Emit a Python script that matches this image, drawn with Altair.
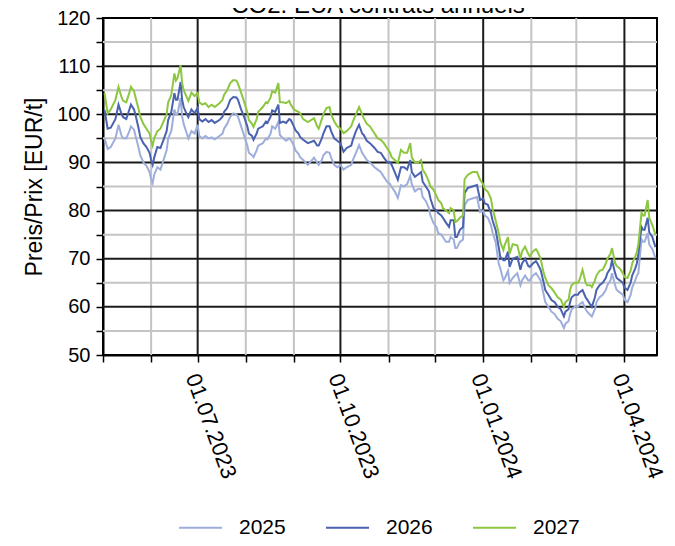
import altair as alt
import pandas as pd

dates = [
    "2023-05-02", "2023-05-04", "2023-05-06", "2023-05-09", "2023-05-11", "2023-05-13", "2023-05-14", "2023-05-16",
    "2023-05-18", "2023-05-19", "2023-05-21", "2023-05-22", "2023-05-24", "2023-05-25", "2023-05-27", "2023-05-29", "2023-05-31",
    "2023-06-01", "2023-06-02", "2023-06-03", "2023-06-05", "2023-06-07", "2023-06-09", "2023-06-11", "2023-06-12", "2023-06-14",
    "2023-06-16", "2023-06-17", "2023-06-18", "2023-06-20", "2023-06-21", "2023-06-22", "2023-06-24", "2023-06-25", "2023-06-27", "2023-06-29",
    "2023-07-01", "2023-07-02", "2023-07-04", "2023-07-06", "2023-07-08", "2023-07-10", "2023-07-12", "2023-07-15", "2023-07-17",
    "2023-07-18", "2023-07-20", "2023-07-22", "2023-07-24", "2023-07-26", "2023-07-27", "2023-07-29", "2023-07-31",
    "2023-08-02", "2023-08-03", "2023-08-05", "2023-08-06", "2023-08-08", "2023-08-09", "2023-08-12", "2023-08-14", "2023-08-15",
    "2023-08-17", "2023-08-18", "2023-08-20", "2023-08-22", "2023-08-23", "2023-08-25", "2023-08-27", "2023-08-29", "2023-08-30",
    "2023-09-01", "2023-09-02", "2023-09-04", "2023-09-05", "2023-09-07", "2023-09-10", "2023-09-14", "2023-09-16", "2023-09-17",
    "2023-09-19", "2023-09-20", "2023-09-22", "2023-09-24", "2023-09-25", "2023-09-27", "2023-09-29",
    "2023-10-01", "2023-10-03", "2023-10-05", "2023-10-08", "2023-10-09", "2023-10-11", "2023-10-13", "2023-10-15", "2023-10-16",
    "2023-10-18", "2023-10-20", "2023-10-23", "2023-10-25", "2023-10-27", "2023-10-29", "2023-10-31",
    "2023-11-02", "2023-11-03", "2023-11-05", "2023-11-07", "2023-11-09", "2023-11-11", "2023-11-13", "2023-11-15", "2023-11-16",
    "2023-11-18", "2023-11-20", "2023-11-22", "2023-11-23", "2023-11-25", "2023-11-27", "2023-11-28", "2023-11-30",
    "2023-12-02", "2023-12-03", "2023-12-05", "2023-12-06", "2023-12-08", "2023-12-10", "2023-12-11", "2023-12-13", "2023-12-14",
    "2023-12-15", "2023-12-17", "2023-12-19", "2023-12-20", "2023-12-22", "2023-12-25", "2023-12-28", "2023-12-30",
    "2024-01-01", "2024-01-02", "2024-01-04", "2024-01-06", "2024-01-07", "2024-01-09", "2024-01-11", "2024-01-12", "2024-01-14",
    "2024-01-15", "2024-01-17", "2024-01-18", "2024-01-20", "2024-01-23", "2024-01-25", "2024-01-26", "2024-01-28", "2024-01-30", "2024-01-31",
    "2024-02-02", "2024-02-04", "2024-02-05", "2024-02-07", "2024-02-09", "2024-02-10", "2024-02-12", "2024-02-14", "2024-02-16",
    "2024-02-18", "2024-02-20", "2024-02-22", "2024-02-23", "2024-02-25", "2024-02-26", "2024-02-27", "2024-02-29",
    "2024-03-02", "2024-03-03", "2024-03-05", "2024-03-07", "2024-03-08", "2024-03-10", "2024-03-11", "2024-03-13", "2024-03-14",
    "2024-03-16", "2024-03-18", "2024-03-20", "2024-03-21", "2024-03-23", "2024-03-24", "2024-03-26", "2024-03-27", "2024-03-29", "2024-03-31",
    "2024-04-01", "2024-04-03", "2024-04-05", "2024-04-06", "2024-04-08", "2024-04-09", "2024-04-10", "2024-04-12", "2024-04-13",
    "2024-04-14", "2024-04-16", "2024-04-17", "2024-04-19", "2024-04-21",
]

p2025 = [
    95.0, 92.8, 93.2, 95.0, 97.8, 95.5, 95.0, 95.0, 96.5, 97.5, 96.8, 95.5, 93.0, 91.5, 90.0, 89.3, 88.0,
    86.5, 85.7, 87.5, 89.0, 88.5, 90.5, 92.5, 95.0, 96.5, 101.0, 100.0, 100.0, 103.4, 99.5, 98.0, 96.0, 95.0, 96.5, 96.0,
    97.8, 95.5, 95.0, 95.5, 95.0, 95.2, 94.8, 95.5, 96.0, 97.0, 98.0, 99.5, 100.2, 100.0, 99.5, 97.5, 95.5,
    93.5, 92.0, 91.5, 91.1, 92.5, 93.5, 94.0, 95.0, 94.8, 96.0, 97.5, 97.0, 98.4, 95.7, 95.0, 94.5, 95.0, 94.7,
    93.5, 92.5, 91.8, 91.1, 90.5, 89.5, 91.0, 90.0, 89.5, 90.5, 91.5, 92.2, 92.0, 91.0, 89.5, 89.0,
    89.5, 88.5, 89.0, 89.5, 90.5, 92.0, 93.6, 92.0, 91.5, 90.5, 90.0, 89.0, 88.5, 88.0, 87.0, 86.0,
    85.5, 84.9, 84.0, 82.6, 85.3, 85.0, 85.5, 87.2, 85.5, 84.0, 84.5, 84.5, 82.8, 82.0, 80.5, 79.0, 77.4,
    76.5, 75.3, 75.0, 74.5, 73.5, 73.5, 74.5, 74.0, 72.2, 72.2, 73.5, 74.0, 81.0, 82.2, 82.5, 82.8, 79.7,
    80.0, 79.0, 78.5, 77.0, 75.5, 73.5, 69.0, 68.0, 65.5, 66.0, 67.5, 65.0, 66.0, 67.0, 64.5, 65.5, 66.5, 65.5, 65.5,
    66.5, 67.0, 66.5, 65.5, 62.5, 61.0, 60.0, 59.0, 58.5, 57.5, 57.0, 55.6, 56.5, 57.0, 58.5, 59.5, 60.0,
    60.0, 60.5, 61.0, 59.5, 59.0, 58.3, 58.0, 59.5, 61.0, 62.0, 62.5, 63.5, 64.5, 65.5, 67.0, 64.5, 63.5, 63.0, 62.5,
    61.5, 61.0, 62.5, 64.0, 65.5, 66.5, 67.0, 74.0, 73.5, 73.5, 75.3, 73.0, 72.0, 70.1,
]

p2026 = [
    100.9, 97.0, 97.2, 99.0, 102.0, 100.0, 99.4, 99.0, 101.0, 102.0, 101.0, 99.8, 97.0, 95.3, 94.0, 93.2, 92.0,
    90.5, 89.5, 91.0, 93.2, 93.0, 94.7, 96.5, 98.8, 100.5, 104.4, 103.0, 103.0, 106.7, 103.0, 101.5, 100.0, 99.4, 101.0, 100.2,
    101.3, 99.0, 98.5, 99.0, 98.4, 98.8, 98.2, 98.8, 99.5, 100.5, 101.3, 103.0, 103.6, 103.5, 103.0, 101.0, 99.4,
    97.5, 96.0, 95.5, 94.7, 96.0, 97.0, 97.5, 98.5, 98.2, 99.5, 100.8, 100.5, 102.0, 98.2, 98.5, 98.2, 99.0, 98.8,
    97.5, 96.7, 96.0, 95.3, 94.7, 94.0, 94.5, 93.5, 93.5, 95.0, 96.0, 97.5, 97.5, 96.5, 95.0, 94.5,
    94.0, 92.2, 93.0, 93.5, 94.7, 96.5, 97.8, 96.0, 95.7, 94.5, 94.0, 93.0, 92.2, 92.0, 91.0, 90.1,
    90.0, 89.5, 88.0, 86.4, 89.0, 89.0, 88.5, 90.5, 88.0, 87.0, 87.5, 88.0, 86.0, 85.0, 84.0, 82.5, 80.5,
    80.0, 79.5, 79.0, 78.5, 77.5, 76.6, 78.0, 78.0, 74.5, 74.5, 76.0, 76.6, 83.6, 84.7, 85.0, 85.3, 82.2,
    82.5, 81.5, 81.2, 79.5, 78.0, 76.0, 72.4, 70.4, 69.7, 69.7, 71.5, 68.3, 70.0, 70.4, 67.7, 69.0, 70.0, 68.5, 68.3,
    69.0, 69.5, 69.0, 67.7, 65.0, 63.5, 62.5, 61.4, 61.0, 60.0, 59.5, 58.0, 59.0, 59.5, 61.0, 62.0, 62.5,
    62.5, 63.0, 63.5, 62.0, 61.5, 60.5, 60.0, 62.0, 63.5, 64.5, 65.0, 66.0, 67.0, 68.0, 69.7, 67.0, 66.0, 65.5, 65.0,
    64.0, 63.5, 65.0, 66.5, 68.0, 69.0, 71.0, 76.6, 76.0, 76.0, 78.5, 75.5, 74.5, 72.4,
]

p2027 = [
    104.4, 100.2, 101.0, 103.0, 105.7, 103.5, 102.8, 102.5, 104.5, 105.7, 104.8, 103.5, 101.0, 99.5, 98.0, 97.0, 96.0,
    94.5, 93.5, 95.0, 96.5, 97.0, 98.5, 100.0, 102.5, 104.0, 108.5, 107.0, 107.5, 110.2, 106.5, 105.0, 103.5, 102.8, 104.5, 103.8,
    104.4, 102.5, 102.0, 102.3, 101.5, 102.0, 101.5, 102.3, 103.0, 104.0, 105.0, 106.5, 107.1, 107.0, 106.3, 104.5, 102.5,
    100.5, 98.8, 98.0, 97.4, 99.0, 100.5, 101.5, 102.5, 102.3, 103.5, 104.8, 104.5, 106.5, 102.5, 102.5, 102.3, 102.8, 102.0,
    101.0, 100.8, 100.5, 100.2, 99.0, 98.4, 99.2, 97.5, 97.0, 99.0, 100.0, 101.3, 101.5, 100.0, 98.5, 97.5,
    97.0, 96.1, 96.5, 97.5, 98.5, 100.0, 101.5, 100.0, 99.2, 98.0, 97.5, 96.0, 95.0, 94.7, 94.0, 93.0,
    92.0, 91.1, 90.5, 89.9, 92.6, 92.0, 92.0, 94.0, 91.0, 90.0, 90.0, 90.5, 88.5, 87.5, 86.0, 85.0, 84.3,
    83.0, 82.2, 81.5, 80.5, 80.0, 79.5, 80.5, 80.0, 77.6, 77.8, 78.5, 79.0, 86.5, 87.4, 88.0, 88.0, 86.4,
    85.5, 84.5, 83.9, 82.5, 80.5, 78.0, 75.3, 73.5, 71.8, 73.0, 74.5, 71.0, 73.0, 72.8, 70.0, 71.5, 72.5, 71.0, 70.5,
    71.5, 72.0, 71.5, 70.0, 67.0, 66.0, 64.5, 63.9, 63.0, 62.0, 61.5, 60.0, 61.0, 61.5, 63.5, 64.5, 65.0,
    65.0, 65.5, 67.7, 65.0, 64.5, 64.5, 64.1, 65.5, 66.5, 67.5, 67.7, 69.0, 70.0, 71.0, 72.2, 69.1, 68.5, 68.0, 67.0,
    66.2, 66.0, 67.5, 69.0, 70.5, 71.4, 73.0, 79.5, 79.0, 79.0, 82.2, 78.5, 77.0, 75.0,
]

series_names = ["2025", "2026", "2027"]
series_colors = ["#9eaedc", "#4a62b0", "#8dc63f"]

title_text = "CO2: EUA contrats annuels"
y_title = "Preis/Prix [EUR/t]"

y_major = [60, 70, 80, 90, 100, 110]
y_minor = [55, 65, 75, 85, 95, 105, 115]
y_ticks = [50, 55, 60, 65, 70, 75, 80, 85, 90, 95, 100, 105, 110, 115, 120]
x_quarters = ["2023-07-01", "2023-10-01", "2024-01-01", "2024-04-01"]
x_months = ["2023-06-01", "2023-08-01", "2023-09-01", "2023-11-01", "2023-12-01", "2024-02-01", "2024-03-01"]
x_ticks = [(2023, 5), (2023, 6), (2023, 7), (2023, 8), (2023, 9), (2023, 10), (2023, 11), (2023, 12),
           (2024, 1), (2024, 2), (2024, 3), (2024, 4)]

FONT = "Liberation Sans"
W, H = 554, 337

rows = []
for name, vals in zip(series_names, [p2025, p2026, p2027]):
    for d, v in zip(dates, vals):
        rows.append({"date": d, "value": v, "series": name})
df = pd.DataFrame(rows)

xscale = alt.Scale(
    type="utc",
    domain=[alt.DateTime(year=2023, month=5, date=1, utc=True),
            alt.DateTime(year=2024, month=4, date=22, utc=True)],
)
yscale = alt.Scale(domain=[50, 120], nice=False, zero=False)

x_axis = alt.Axis(
    values=[alt.DateTime(year=y, month=m, date=1, utc=True) for y, m in x_ticks],
    labelExpr="utcmonth(datum.value) % 3 == 0 ? utcFormat(datum.value, '%d.%m.%Y') : ''",
    labelAngle=70,
    labelAlign="left",
    labelBaseline="middle",
    labelPadding=12,
    labelOffset=-6,
    labelFont=FONT,
    labelFontSize=22,
    labelColor="black",
    labelOverlap=False,
    labelFlush=False,
    labelBound=False,
    tickSize=7,
    tickColor="black",
    tickWidth=1.5,
    domainColor="black",
    domainWidth=2,
    grid=False,
    title=None,
)

y_axis = alt.Axis(
    values=y_ticks,
    labelExpr="datum.value % 10 == 0 ? datum.label : ''",
    labelFont=FONT,
    labelFontSize=20,
    labelColor="black",
    labelPadding=6,
    labelOverlap=False,
    labelFlush=False,
    tickSize=7,
    tickColor="black",
    tickWidth=1.5,
    domainColor="black",
    domainWidth=2,
    grid=False,
    title=y_title,
    titleFont=FONT,
    titleFontSize=23,
    titleFontWeight="normal",
    titleColor="black",
    titlePadding=10,
)

X = alt.X("date:T", scale=xscale, axis=x_axis)
Y = alt.Y("value:Q", scale=yscale, axis=y_axis)

grid_minor_v = alt.Chart(pd.DataFrame({"date": x_months})).mark_rule(
    color="#c4c4c4", strokeWidth=2
).encode(x=X)

grid_minor_h = alt.Chart(pd.DataFrame({"value": y_minor})).mark_rule(
    color="#c4c4c4", strokeWidth=2
).encode(y=Y)

grid_major_v = alt.Chart(pd.DataFrame({"date": x_quarters})).mark_rule(
    color="#1a1a1a", strokeWidth=2
).encode(x=X)

grid_major_h = alt.Chart(pd.DataFrame({"value": y_major})).mark_rule(
    color="#1a1a1a", strokeWidth=2
).encode(y=Y)

lines = alt.Chart(df).mark_line(strokeWidth=2).encode(
    x=X,
    y=Y,
    color=alt.Color(
        "series:N",
        scale=alt.Scale(domain=series_names, range=series_colors),
        legend=alt.Legend(
            title=None,
            orient="none",
            legendX=75,
            legendY=487,
            direction="horizontal",
            symbolType="stroke",
            symbolSize=1849,
            symbolStrokeWidth=2,
            labelFont=FONT,
            labelFontSize=21,
            labelColor="black",
            labelOffset=16,
            columnPadding=36,
            padding=0,
        ),
    ),
)

title_mark = alt.Chart(pd.DataFrame({"t": [title_text]})).mark_text(
    font=FONT, fontSize=24, color="black", align="center", baseline="alphabetic"
).encode(text="t:N", x=alt.value(W / 2 - 2), y=alt.value(-5))

chart = alt.layer(
    grid_minor_v, grid_minor_h, grid_major_v, grid_major_h, lines, title_mark
).properties(
    width=W,
    height=H,
    padding={"left": 95, "top": 10, "right": 10, "bottom": 183},
    autosize=alt.AutoSizeParams(type="none"),
).configure_view(stroke="black", strokeWidth=2)

chart.save("out.html", embed_options={"renderer": "svg", "actions": False})
